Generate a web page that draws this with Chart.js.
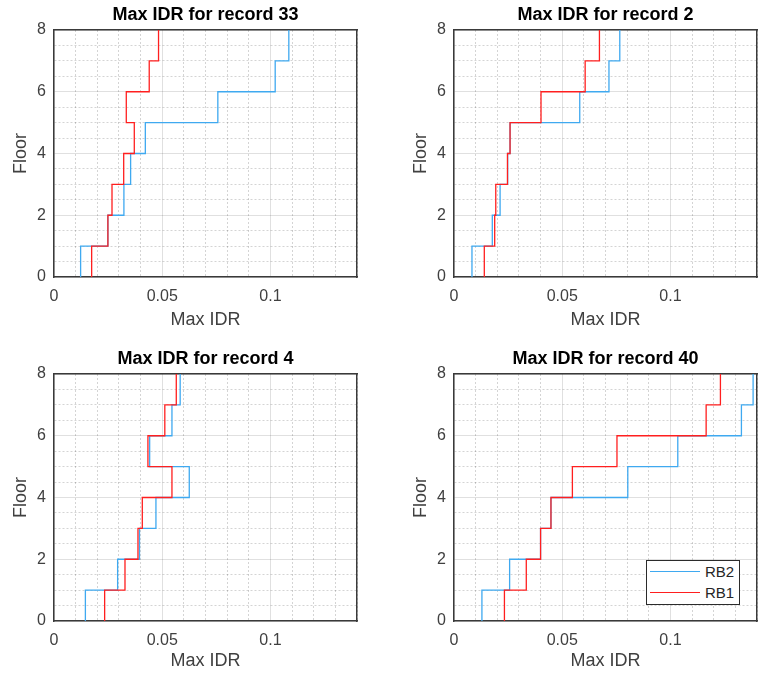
<!DOCTYPE html>
<html>
<head>
<meta charset="utf-8">
<title>Max IDR</title>
<script src="https://cdn.jsdelivr.net/npm/chart.js@4.4.1/dist/chart.umd.min.js"></script>
<style>
  body { margin: 0; background: #fff; width: 761px; height: 678px; overflow: hidden; position: relative; }
  canvas { position: absolute; }
  #leyenda {
    position: absolute; left: 646px; top: 560px; width: 92px; height: 43px;
    border: 1px solid #2b2b2b; background: #fff;
    font: 15px 'Liberation Sans', Arial, sans-serif; color: #262626;
  }
  #leyenda .fila { height: 21px; display: flex; align-items: center; }
  #leyenda .linea { display: inline-block; width: 50px; height: 0; margin: 0 5px 0 3px; }
</style>
</head>
<body>
<canvas id="g33" width="361" height="337" style="left:0px;top:0px"></canvas>
<canvas id="g2" width="361" height="337" style="left:400px;top:0px"></canvas>
<canvas id="g4" width="361" height="333" style="left:0px;top:344px"></canvas>
<canvas id="g40" width="361" height="333" style="left:400px;top:344px"></canvas>
<div id="leyenda"></div>

<script>
// Max IDR por piso (entrepiso 1 a 8) para cada registro
const pisos = [1, 2, 3, 4, 5, 6, 7, 8];
const ticksX = [0, 0.05, 0.1];
const ticksY = [0, 2, 4, 6, 8];

const rb2Reg33 = [0.0123, 0.0249, 0.0323, 0.0354, 0.0422, 0.0757, 0.1022, 0.1085];
const rb1Reg33 = [0.0174, 0.0249, 0.0268, 0.0322, 0.0371, 0.0334, 0.0440, 0.0483];

const rb2Reg2 = [0.0083, 0.0177, 0.0213, 0.0248, 0.0259, 0.0581, 0.0716, 0.0766];
const rb1Reg2 = [0.0140, 0.0188, 0.0193, 0.0247, 0.0259, 0.0402, 0.0606, 0.0672];

const rb2Reg4 = [0.0145, 0.0294, 0.0395, 0.0471, 0.0625, 0.0442, 0.0545, 0.0583];
const rb1Reg4 = [0.0234, 0.0328, 0.0388, 0.0408, 0.0545, 0.0434, 0.0512, 0.0565];

const rb2Reg40 = [0.0129, 0.0257, 0.0400, 0.0448, 0.0803, 0.1034, 0.1328, 0.1382];
const rb1Reg40 = [0.0233, 0.0334, 0.0400, 0.0448, 0.0547, 0.0753, 0.1165, 0.1231];

const colorRB2 = '#3fa9f0';
const colorRB1 = '#ff1f1f';
const fuente = "'Liberation Sans', Arial, Helvetica, sans-serif";
const colorTexto = '#404040';
const colorEje = '#3a3a3a';

// Convierte los valores por entrepiso en un perfil escalonado
function escalones(valores) {
    const puntos = [];
    valores.forEach((v, i) => {
        puntos.push({ x: v, y: pisos[i] - 1 });
        puntos.push({ x: v, y: pisos[i] });
    });
    return puntos;
}

const enLista = (lista, v) => lista.some(t => Math.abs(t - v) < 1e-9);

// Rejilla: principal continua, secundaria punteada
const colorRejilla = lista => ctx => enLista(lista, ctx.tick.value) ? 'rgba(0,0,0,0.12)' : 'rgba(0,0,0,0.17)';
const trazoRejilla = lista => ctx => (ctx.tick && !enLista(lista, ctx.tick.value)) ? [2, 2] : [];

function crearGrafico(id, registro, rb2, rb1, altoX, padTituloX) {
    const ctx = document.getElementById(id).getContext('2d');
    return new Chart(ctx, {
        type: 'scatter',
        data: {
            datasets: [
                { label: 'RB1', data: escalones(rb1), borderColor: colorRB1, backgroundColor: colorRB1 },
                { label: 'RB2', data: escalones(rb2), borderColor: colorRB2, backgroundColor: colorRB2 }
            ]
        },
        options: {
            responsive: false,
            animation: false,
            showLine: true,
            elements: {
                point: { radius: 0, hoverRadius: 0 },
                line: { borderWidth: 1.3, tension: 0 }
            },
            layout: { padding: { left: 0, right: 4, top: 0, bottom: 0 } },
            plugins: {
                legend: { display: false },
                tooltip: { enabled: false },
                title: {
                    display: true,
                    text: 'Max IDR for record ' + registro,
                    fullSize: false,
                    color: '#000',
                    font: { family: fuente, size: 18, weight: 'bold' },
                    padding: { top: 4, bottom: 4.4 }
                }
            },
            scales: {
                x: {
                    type: 'linear',
                    position: 'bottom',
                    min: 0,
                    max: 0.14,
                    afterFit: s => { s.height = altoX; s.paddingLeft = 0; s.paddingRight = 0; },
                    ticks: {
                        stepSize: 0.01,
                        autoSkip: false,
                        maxRotation: 0,
                        padding: 10,
                        color: colorTexto,
                        font: { family: fuente, size: 16 },
                        callback: v => enLista(ticksX, v) ? String(+v.toFixed(2)) : ''
                    },
                    grid: { drawTicks: false, lineWidth: 1, color: colorRejilla(ticksX) },
                    border: { color: colorEje, width: 1.5, dash: trazoRejilla(ticksX) },
                    title: {
                        display: true,
                        text: 'Max IDR',
                        color: colorTexto,
                        font: { family: fuente, size: 18 },
                        padding: { top: 0, bottom: padTituloX }
                    }
                },
                y: {
                    type: 'linear',
                    position: 'left',
                    min: 0,
                    max: 8,
                    afterFit: s => { s.width = 54; },
                    ticks: {
                        stepSize: 0.5,
                        autoSkip: false,
                        padding: 8,
                        color: colorTexto,
                        font: { family: fuente, size: 16 },
                        callback: v => enLista(ticksY, v) ? String(v) : ''
                    },
                    grid: { drawTicks: false, lineWidth: 1, color: colorRejilla(ticksY) },
                    border: { color: colorEje, width: 1.5, dash: trazoRejilla(ticksY) },
                    title: {
                        display: true,
                        text: 'Floor',
                        color: colorTexto,
                        font: { family: fuente, size: 18 },
                        padding: { top: 10, bottom: 0 }
                    }
                },
                // bordes superior y derecho de la caja
                xCaja: {
                    type: 'linear', position: 'top', min: 0, max: 0.14,
                    afterFit: s => { s.height = 0; s.paddingLeft = 0; s.paddingRight = 0; },
                    ticks: { display: false },
                    grid: { display: false },
                    border: { color: colorEje, width: 1.5 }
                },
                yCaja: {
                    type: 'linear', position: 'right', min: 0, max: 8,
                    afterFit: s => { s.width = 0; },
                    ticks: { display: false },
                    grid: { display: false },
                    border: { color: colorEje, width: 1.5 }
                }
            }
        }
    });
}

crearGrafico('g33', 33, rb2Reg33, rb1Reg33, 60, 6.5);
crearGrafico('g2', 2, rb2Reg2, rb1Reg2, 60, 6.5);
crearGrafico('g4', 4, rb2Reg4, rb1Reg4, 56, 5);
const grafico40 = crearGrafico('g40', 40, rb2Reg40, rb1Reg40, 56, 5);

// Leyenda del último gráfico (RB2 primero)
const leyenda = document.getElementById('leyenda');
grafico40.data.datasets.slice().reverse().forEach(ds => {
    const fila = document.createElement('div');
    fila.className = 'fila';
    fila.innerHTML = `<span class="linea" style="border-top:1.5px solid ${ds.borderColor}"></span><span>${ds.label}</span>`;
    leyenda.appendChild(fila);
});
</script>
</body>
</html>
